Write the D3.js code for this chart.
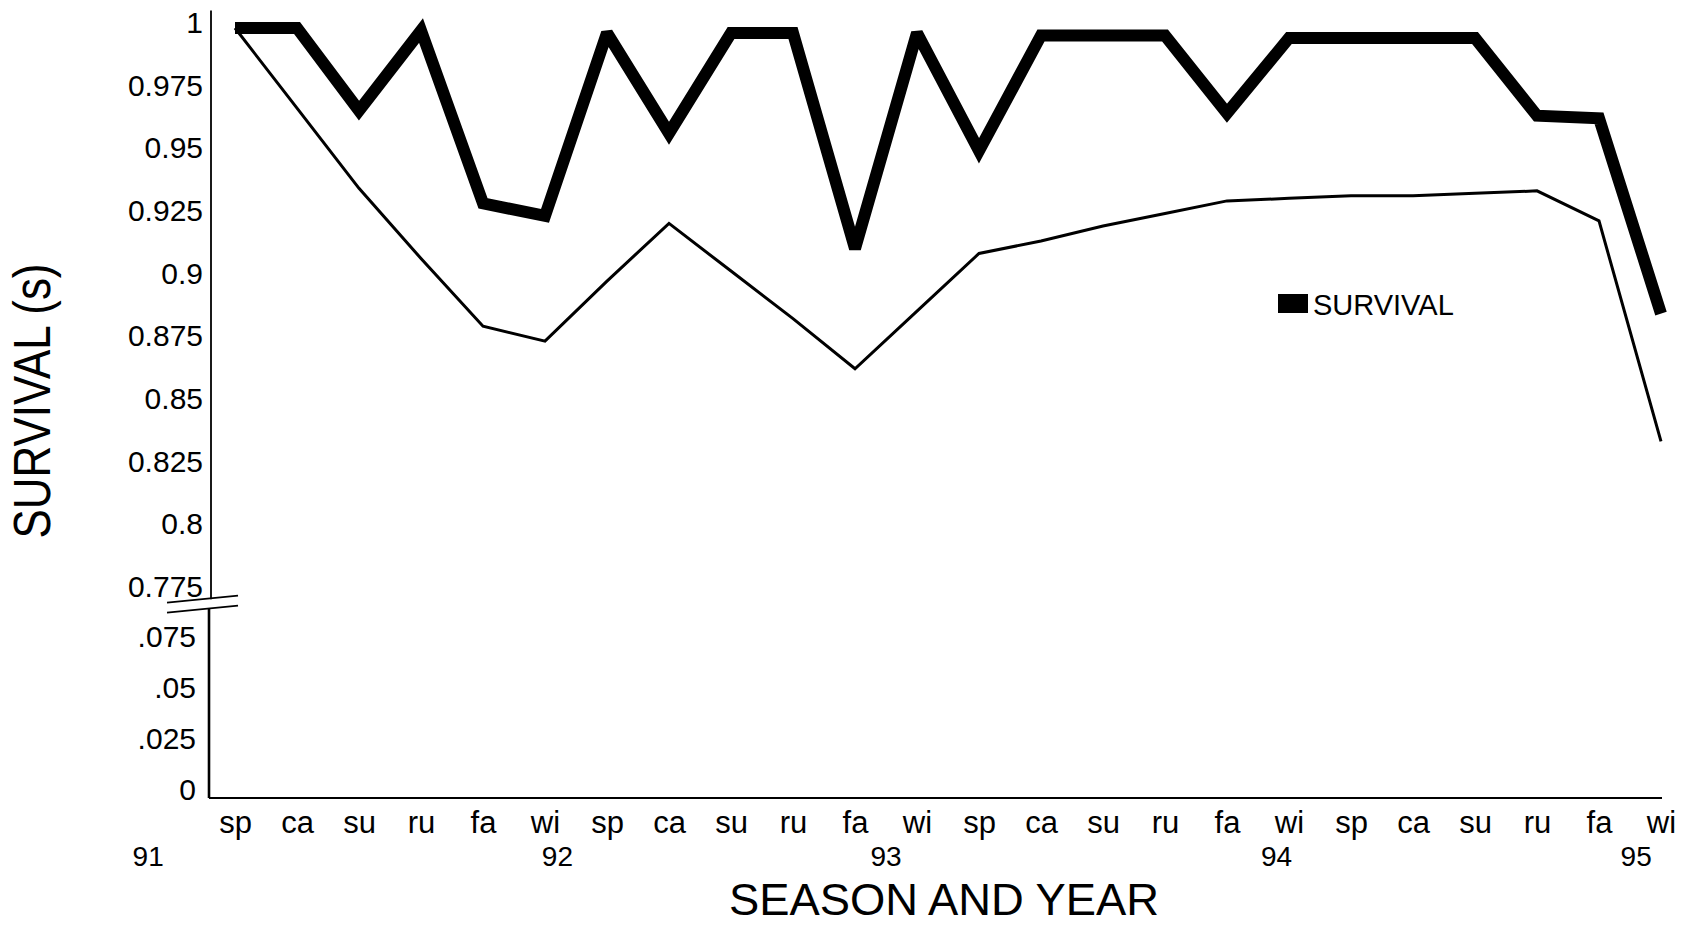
<!DOCTYPE html>
<html>
<head>
<meta charset="utf-8">
<script src="https://cdn.jsdelivr.net/npm/d3@7"></script>
<style>
  html, body { margin: 0; padding: 0; background: #fff; }
  svg { display: block; }
  text { font-family: "Liberation Sans", Arial, Helvetica, sans-serif; fill: #000; }
</style>
</head>
<body>
<svg id="chart" width="1690" height="925"></svg>
<script>
// Seasons from spring 1991 to winter 1995
const seasons = ["sp","ca","su","ru","fa","wi",
                 "sp","ca","su","ru","fa","wi",
                 "sp","ca","su","ru","fa","wi",
                 "sp","ca","su","ru","fa","wi"];

// Seasonal survival estimate (heavy line)
const survival = [0.998, 0.998, 0.965, 0.997, 0.928, 0.923,
                  0.996, 0.956, 0.996, 0.996, 0.910, 0.996,
                  0.949, 0.995, 0.995, 0.995, 0.964, 0.994,
                  0.994, 0.994, 0.994, 0.963, 0.962, 0.884];

// Lower bound of the survival estimate (light line)
const survivalLow = [0.998, 0.966, 0.934, 0.906, 0.879, 0.873,
                     0.897, 0.920, 0.901, 0.882, 0.862, 0.885,
                     0.908, 0.913, 0.919, 0.924, 0.929, 0.930,
                     0.931, 0.931, 0.932, 0.933, 0.921, 0.833];

// Year labels and the season index each one sits under
const yearLabels = ["91", "92", "93", "94", "95"];
const yearAt = [-1.4, 5.2, 10.5, 16.8, 22.6];

// Broken y axis: upper band and lower band
const upperTicks = [1, 0.975, 0.95, 0.925, 0.9, 0.875, 0.85, 0.825, 0.8, 0.775];
const upperTickLabels = ["1", "0.975", "0.95", "0.925", "0.9", "0.875", "0.85", "0.825", "0.8", "0.775"];
const lowerTicks = [0.075, 0.05, 0.025, 0];
const lowerTickLabels = [".075", ".05", ".025", "0"];

const svg = d3.select("#chart");

const x = d3.scaleLinear().domain([0, seasons.length - 1]).range([235, 1661]);
const yUpper = d3.scaleLinear().domain([0.775, 1]).range([586.7, 23]);
const yLower = d3.scaleLinear().domain([0, 0.075]).range([790, 637]);

const axisX = 211;
const baseY = yLower(0) + 8;
const fontStack = '"Liberation Sans", Arial, sans-serif';

// ---- y axis, upper band
const gUp = svg.append("g").attr("transform", `translate(${axisX},0)`);
gUp.call(d3.axisLeft(yUpper)
    .tickValues(upperTicks)
    .tickFormat((d, i) => upperTickLabels[i])
    .tickSize(0)
    .tickPadding(8));
gUp.select(".domain").remove();
gUp.selectAll("text").style("font-size", "30px").attr("fill", "#000")
   .style("font-family", fontStack);
svg.append("line")
  .attr("x1", axisX).attr("x2", axisX)
  .attr("y1", yUpper(1.005)).attr("y2", yUpper(0.77))
  .attr("stroke", "#000").attr("stroke-width", 1.8);

// ---- y axis, lower band
const gLo = svg.append("g").attr("transform", `translate(${axisX - 2},0)`);
gLo.call(d3.axisLeft(yLower)
    .tickValues(lowerTicks)
    .tickFormat((d, i) => lowerTickLabels[i])
    .tickSize(0)
    .tickPadding(13));
gLo.select(".domain").remove();
gLo.selectAll("text").style("font-size", "30px").attr("fill", "#000")
   .style("font-family", fontStack);
svg.append("line")
  .attr("x1", axisX - 2).attr("x2", axisX - 2)
  .attr("y1", yLower(0.089)).attr("y2", baseY)
  .attr("stroke", "#000").attr("stroke-width", 2.6);

// ---- axis break marks
const breakY = yUpper(0.77) + 5;
[-5, 5].forEach(off => {
  svg.append("line")
    .attr("x1", axisX - 44).attr("y1", breakY + off + 3.5)
    .attr("x2", axisX + 27).attr("y2", breakY + off - 3.5)
    .attr("stroke", "#000").attr("stroke-width", 1.8);
});

// ---- x axis with season labels
const gX = svg.append("g").attr("transform", `translate(0,${baseY})`);
gX.call(d3.axisBottom(x)
    .tickValues(d3.range(seasons.length))
    .tickFormat(i => seasons[i])
    .tickSize(0)
    .tickPadding(13));
gX.select(".domain").remove();
gX.selectAll("text").style("font-size", "31px").attr("fill", "#000")
   .style("font-family", fontStack);
svg.append("line")
  .attr("x1", x(-0.42)).attr("x2", x(seasons.length - 1) + 1)
  .attr("y1", baseY).attr("y2", baseY)
  .attr("stroke", "#000").attr("stroke-width", 2);

// ---- year labels
svg.append("g").selectAll("text")
  .data(yearLabels)
  .join("text")
  .attr("x", (d, i) => x(yearAt[i]))
  .attr("y", baseY + 68)
  .attr("text-anchor", "middle")
  .style("font-size", "28px")
  .text(d => d);

// ---- series
const line = d3.line()
  .x((d, i) => x(i))
  .y(d => yUpper(d));

svg.append("path")
  .datum(survivalLow)
  .attr("d", line)
  .attr("fill", "none")
  .attr("stroke", "#000")
  .attr("stroke-width", 3)
  .attr("stroke-linejoin", "miter");

svg.append("path")
  .datum(survival)
  .attr("d", line)
  .attr("fill", "none")
  .attr("stroke", "#000")
  .attr("stroke-width", 12)
  .attr("stroke-linejoin", "miter")
  .attr("stroke-miterlimit", 2.2)
  .attr("stroke-linecap", "butt");

// ---- legend
const legend = svg.append("g").attr("transform", "translate(1278,294)");
legend.append("rect").attr("x", 0).attr("y", 0).attr("width", 30).attr("height", 19).attr("fill", "#000");
legend.append("text").attr("x", 35).attr("y", 21).style("font-size", "29px").text("SURVIVAL");

// ---- axis titles
svg.append("text")
  .attr("x", 944).attr("y", 915)
  .attr("text-anchor", "middle")
  .attr("textLength", 430)
  .attr("lengthAdjust", "spacingAndGlyphs")
  .style("font-size", "45px")
  .text("SEASON AND YEAR");

svg.append("text")
  .attr("transform", "translate(50,401) rotate(-90)")
  .attr("text-anchor", "middle")
  .attr("textLength", 275)
  .attr("lengthAdjust", "spacingAndGlyphs")
  .style("font-size", "52px")
  .text("SURVIVAL (s)");
</script>
</body>
</html>
